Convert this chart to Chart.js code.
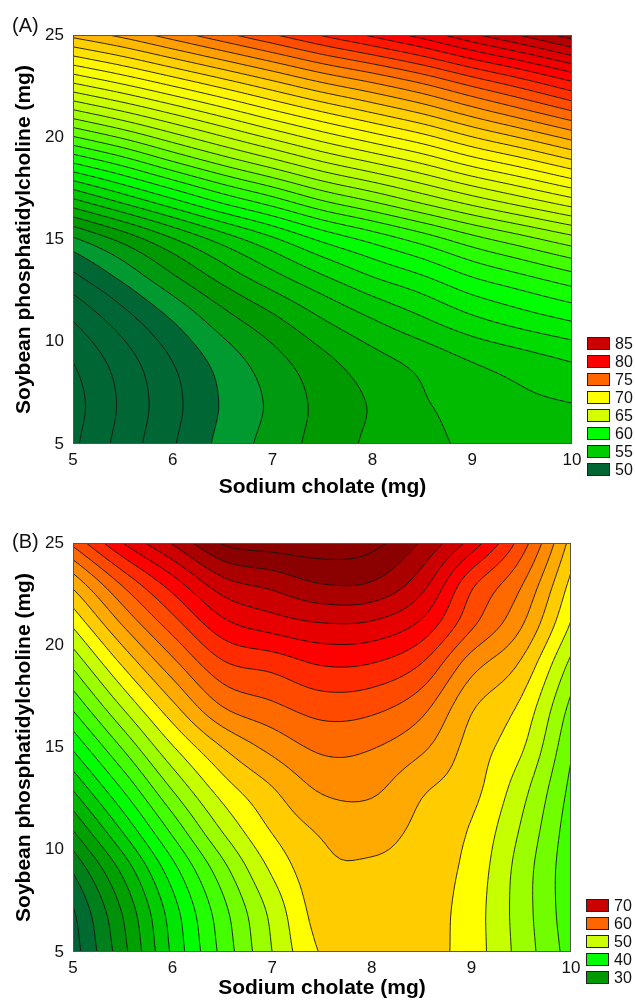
<!DOCTYPE html>
<html>
<head>
<meta charset="utf-8">
<title>Contour plots</title>
<script src="https://cdn.jsdelivr.net/npm/chart.js@4.4.1/dist/chart.umd.min.js"></script>
<style>
  html, body { margin: 0; padding: 0; background: #fff; }
  .panel { position: absolute; left: 0; width: 635px; }
  #wrapA { top: 0; height: 500px; }
  #wrapB { top: 500px; height: 503px; }
</style>
</head>
<body>
<div class="panel" id="wrapA"><canvas id="chartA"></canvas></div>
<div class="panel" id="wrapB"><canvas id="chartB"></canvas></div>
<script>
// grid nodes the surfaces were read at
const sodiumCholate = [5, 5.5, 6, 6.5, 7, 7.5, 8, 8.5, 9, 9.5, 10];
const soyPC = [5, 7, 9, 11, 13, 15, 17, 19, 21, 23, 25];

// (A) one row per soyPC value (5 -> 25), one column per sodiumCholate value
const responseA = [
  [45.8, 47.4, 48.9, 50.3, 51.4, 52.4, 53.2, 53.7, 54.2, 54.5, 54.6],
  [45.6, 47.2, 48.7, 50.1, 51.2, 52.3, 53.1, 53.9, 54.4, 54.8, 55.0],
  [46.0, 47.5, 49.0, 50.4, 51.6, 52.7, 53.6, 54.3, 55.0, 55.5, 56.0],
  [47.0, 48.5, 50.0, 51.5, 52.7, 53.9, 54.9, 55.8, 56.7, 57.4, 58.0],
  [48.6, 50.1, 51.7, 53.2, 54.5, 55.7, 56.8, 57.7, 58.8, 59.6, 60.4],
  [50.8, 52.3, 53.9, 55.4, 56.8, 58.2, 59.3, 60.4, 61.6, 62.6, 63.6],
  [55.0, 56.5, 58.0, 59.5, 60.8, 62.2, 63.3, 64.5, 65.7, 66.8, 67.9],
  [59.6, 60.9, 62.4, 63.8, 65.1, 66.4, 67.5, 68.6, 69.9, 71.0, 72.2],
  [64.2, 65.4, 66.7, 68.0, 69.3, 70.5, 71.6, 72.7, 74.0, 75.2, 76.4],
  [68.8, 69.9, 71.1, 72.3, 73.5, 74.7, 75.7, 76.8, 78.1, 79.3, 80.6],
  [73.3, 74.3, 75.5, 76.7, 77.9, 79.1, 80.2, 81.4, 82.8, 84.1, 85.5]
];

// (B) same layout
const responseB = [
  [23.0, 29.3, 36.4, 42.6, 48.0, 52.2, 53.0, 52.8, 51.0, 47.2, 43.1],
  [23.8, 30.2, 37.1, 43.3, 48.6, 53.0, 53.2, 52.9, 51.0, 47.0, 42.7],
  [26.2, 32.5, 39.2, 45.2, 50.3, 53.5, 53.7, 53.1, 51.3, 47.1, 42.6],
  [30.1, 36.3, 42.6, 48.2, 52.2, 54.3, 54.8, 53.5, 51.8, 47.8, 42.9],
  [34.2, 40.2, 46.2, 51.0, 53.9, 56.3, 56.4, 54.3, 52.7, 48.8, 43.5],
  [38.3, 44.2, 49.8, 54.0, 56.6, 58.4, 58.1, 56.4, 53.2, 50.3, 44.3],
  [42.4, 48.2, 53.5, 58.0, 59.6, 60.9, 60.6, 58.7, 54.3, 51.6, 45.5],
  [46.3, 52.1, 57.2, 61.5, 62.6, 64.0, 63.8, 61.8, 56.8, 53.6, 47.4],
  [50.3, 56.1, 61.0, 65.3, 66.9, 67.8, 67.6, 65.5, 60.4, 56.2, 49.8],
  [54.6, 60.3, 65.0, 69.2, 70.6, 72.0, 71.8, 68.8, 62.5, 58.2, 51.5],
  [60.5, 66.0, 70.2, 74.2, 75.0, 75.2, 74.6, 71.8, 67.2, 61.1, 53.3]
];

const xTicks = [5, 6, 7, 8, 9, 10];
const yTicks = [5, 10, 15, 20, 25];
const legendA = [85, 80, 75, 70, 65, 60, 55, 50];
const legendB = [70, 60, 50, 40, 30];

const FONT = '"Liberation Sans", Arial, Helvetica, sans-serif';

const panels = [
  {
    canvas: 'chartA', tag: '(A)', tagY: 26, z: responseA, legend: legendA,
    legendColors: ['#cc0000', '#ff0000', '#ff6600', '#ffff00', '#d4ff00', '#00ff00', '#00cc00', '#006633'],
    levels: { from: 40, to: 90, step: 1 },
    stops: [[49.9, '#006633'], [50, '#009a48'], [51, '#009a18'], [52.5, '#009900'], [54, '#00b400'],
            [55.5, '#00c800'], [57, '#00e400'], [58.5, '#00ff00'], [61, '#33ff00'], [63, '#77ff00'],
            [65, '#b0ff00'], [67.5, '#ddff00'], [70, '#ffff00'], [72.5, '#ffd000'], [74.5, '#ffa000'],
            [76.5, '#ff6a00'], [78.5, '#ff3000'], [80.5, '#ff0000'], [83, '#d80000'], [85, '#a80000'],
            [86.5, '#880000']],
    padTop: 35, padRight: 63, xAxisH: 56, xTitlePad: 0
  },
  {
    canvas: 'chartB', tag: '(B)', tagY: 42, z: responseB, legend: legendB,
    legendColors: ['#cc0000', '#ff6600', '#ccff00', '#00ff00', '#009900'],
    levels: { from: 20, to: 80, step: 2 },
    stops: [[22, '#005a3c'], [25, '#006b30'], [28, '#008a10'], [31, '#00a000'], [35, '#00cc00'],
            [39, '#00ff00'], [43, '#44ff00'], [46, '#88ff00'], [48.5, '#bbff00'], [50, '#ddff00'],
            [51, '#ffff00'], [53, '#ffcc00'], [55, '#ffaa00'], [57, '#ff8c00'], [59, '#ff6a00'],
            [61, '#ff4a00'], [63, '#ff2a00'], [65, '#ff0000'], [67, '#e60000'], [69, '#cc0000'],
            [71, '#aa0000'], [73, '#8b0000']],
    padTop: 43, padRight: 64, xAxisH: 51, xTitlePad: 2
  }
];

function hexRgb(h) {
  const n = parseInt(h.slice(1), 16);
  return [(n >> 16) & 255, (n >> 8) & 255, n & 255];
}

function cmap(stops, v) {
  if (v <= stops[0][0]) return hexRgb(stops[0][1]);
  for (let i = 1; i < stops.length; i++) {
    if (v <= stops[i][0]) {
      const t = (v - stops[i - 1][0]) / (stops[i][0] - stops[i - 1][0]);
      const a = hexRgb(stops[i - 1][1]), b = hexRgb(stops[i][1]);
      return a.map((c, k) => Math.round(c + (b[k] - c) * t));
    }
  }
  return hexRgb(stops[stops.length - 1][1]);
}

// grid padded by one node on every side so the cubic has neighbours at the border
function padGrid(z) {
  const rows = z.map(r => [2 * r[0] - r[1], ...r, 2 * r[r.length - 1] - r[r.length - 2]]);
  const n = rows.length;
  const first = rows[0].map((v, k) => 2 * v - rows[1][k]);
  const last = rows[n - 1].map((v, k) => 2 * v - rows[n - 2][k]);
  return [first, ...rows, last];
}

function cr(p0, p1, p2, p3, t) {
  return p1 + 0.5 * t * (p2 - p0 + t * (2 * p0 - 5 * p1 + 4 * p2 - p3 + t * (3 * (p1 - p2) + p3 - p0)));
}

function sample(P, nc, nr, gx, gy) {
  let i = Math.floor(gx); if (i < 0) i = 0; if (i > nc - 2) i = nc - 2;
  let j = Math.floor(gy); if (j < 0) j = 0; if (j > nr - 2) j = nr - 2;
  const tx = gx - i, ty = gy - j;
  const c = [];
  for (let k = 0; k < 4; k++) {
    const r = P[j + k];
    c.push(cr(r[i], r[i + 1], r[i + 2], r[i + 3], tx));
  }
  return cr(c[0], c[1], c[2], c[3], ty);
}

const contourPlugin = {
  id: 'contour',
  beforeDatasetsDraw(chart) {
    const ds = chart.data.datasets[0];
    const st = ds.surface;
    const { ctx, chartArea: a, scales: { x, y } } = chart;
    const xs = sodiumCholate, ys = soyPC;
    const nc = xs.length, nr = ys.length;
    // rebuild the grid from the dataset points
    const z = [];
    for (let j = 0; j < nr; j++) z.push(ds.data.slice(j * nc, (j + 1) * nc).map(p => p.z));
    const P = padGrid(z);
    const dx = xs[1] - xs[0], dy = ys[1] - ys[0];
    const { from, to, step } = st.levels;
    const nb = Math.round((to - from) / step);
    const colors = [];
    for (let k = 0; k < nb; k++) colors.push(cmap(st.stops, from + (k + 0.5) * step));

    // filled bands
    const L = Math.round(a.left), T = Math.round(a.top);
    const w = Math.round(a.right) - L, h = Math.round(a.bottom) - T;
    const off = document.createElement('canvas');
    off.width = w; off.height = h;
    const octx = off.getContext('2d');
    const img = octx.createImageData(w, h);
    const gxs = new Float64Array(w);
    for (let px = 0; px < w; px++) gxs[px] = (x.getValueForPixel(L + px + 0.5) - xs[0]) / dx;
    for (let py = 0; py < h; py++) {
      const gy = (y.getValueForPixel(T + py + 0.5) - ys[0]) / dy;
      for (let px = 0; px < w; px++) {
        const v = sample(P, nc, nr, gxs[px], gy);
        let k = Math.floor((v - from) / step);
        if (k < 0) k = 0; if (k > nb - 1) k = nb - 1;
        const c = colors[k], o = (py * w + px) * 4;
        img.data[o] = c[0]; img.data[o + 1] = c[1]; img.data[o + 2] = c[2]; img.data[o + 3] = 255;
      }
    }
    octx.putImageData(img, 0, 0);
    ctx.save();
    ctx.drawImage(off, L, T);

    // contour lines, marching squares on a refined grid
    ctx.beginPath();
    ctx.rect(a.left, a.top, a.right - a.left, a.bottom - a.top);
    ctx.clip();
    const N = 8;
    const cols = (nc - 1) * N + 1, rows = (nr - 1) * N + 1;
    const S = [];
    for (let r = 0; r < rows; r++) {
      const row = new Float64Array(cols);
      for (let c = 0; c < cols; c++) row[c] = sample(P, nc, nr, c / N, r / N);
      S.push(row);
    }
    const pxOf = c => x.getPixelForValue(xs[0] + (c / N) * dx);
    const pyOf = r => y.getPixelForValue(ys[0] + (r / N) * dy);
    ctx.strokeStyle = '#151515';
    ctx.lineWidth = 0.9;
    ctx.beginPath();
    for (let r = 0; r < rows - 1; r++) {
      for (let c = 0; c < cols - 1; c++) {
        const va = S[r][c], vb = S[r][c + 1], vc = S[r + 1][c + 1], vd = S[r + 1][c];
        const mn = Math.min(va, vb, vc, vd), mx = Math.max(va, vb, vc, vd);
        const k0 = Math.max(1, Math.ceil((mn - from) / step));
        const k1 = Math.min(nb - 1, Math.floor((mx - from) / step));
        for (let k = k0; k <= k1; k++) {
          const lev = from + k * step;
          const pts = [];
          const edge = (v1, v2, c1, r1, c2, r2) => {
            if ((v1 >= lev) !== (v2 >= lev)) {
              const t = (lev - v1) / (v2 - v1);
              pts.push([pxOf(c1 + t * (c2 - c1)), pyOf(r1 + t * (r2 - r1))]);
            } else pts.push(null);
          };
          edge(va, vb, c, r, c + 1, r);         // bottom
          edge(vb, vc, c + 1, r, c + 1, r + 1); // right
          edge(vd, vc, c, r + 1, c + 1, r + 1); // top
          edge(va, vd, c, r, c, r + 1);         // left
          const hit = pts.filter(p => p);
          if (hit.length === 2) {
            ctx.moveTo(hit[0][0], hit[0][1]); ctx.lineTo(hit[1][0], hit[1][1]);
          } else if (hit.length === 4) {
            const mid = (va + vb + vc + vd) / 4;
            const pairs = ((mid >= lev) === (va >= lev)) ? [[0, 1], [2, 3]] : [[0, 3], [1, 2]];
            pairs.forEach(([p, q]) => { ctx.moveTo(pts[p][0], pts[p][1]); ctx.lineTo(pts[q][0], pts[q][1]); });
          }
        }
      }
    }
    ctx.stroke();
    ctx.restore();

    // frame
    ctx.save();
    ctx.strokeStyle = '#555';
    ctx.lineWidth = 1;
    ctx.strokeRect(L + 0.5, T + 0.5, w - 1, h - 1);
    ctx.restore();
  },
  afterDraw(chart) {
    const ds = chart.data.datasets[0];
    const { ctx, chartArea: a } = chart;
    const lg = ds.legendBoxes;
    const boxW = 23, boxH = 13, gap = 18;
    const bx = Math.round(a.right) + 15;
    const top = Math.round(a.bottom) + 32 - boxH - (lg.values.length - 1) * gap;
    ctx.save();
    ctx.font = '16px ' + FONT;
    ctx.textBaseline = 'middle';
    ctx.textAlign = 'left';
    lg.values.forEach((v, k) => {
      const by = top + k * gap;
      ctx.fillStyle = lg.colors[k];
      ctx.fillRect(bx, by, boxW, boxH);
      ctx.strokeStyle = '#222';
      ctx.lineWidth = 1;
      ctx.strokeRect(bx + 0.5, by + 0.5, boxW - 1, boxH - 1);
      ctx.fillStyle = '#111';
      ctx.fillText(String(v), bx + boxW + 5, by + boxH / 2 + 1);
    });
    ctx.font = '20px ' + FONT;
    ctx.fillStyle = '#111';
    ctx.fillText(ds.tag, 12, ds.tagY);
    ctx.restore();
  }
};

function buildChart(p) {
  const points = [];
  soyPC.forEach((yv, j) => sodiumCholate.forEach((xv, i) => points.push({ x: xv, y: yv, z: p.z[j][i] })));
  return new Chart(document.getElementById(p.canvas), {
    type: 'scatter',
    data: {
      datasets: [{
        data: points,
        pointRadius: 0,
        pointHoverRadius: 0,
        surface: { levels: p.levels, stops: p.stops },
        legendBoxes: { values: p.legend, colors: p.legendColors },
        tag: p.tag,
        tagY: p.tagY
      }]
    },
    options: {
      responsive: true,
      maintainAspectRatio: false,
      animation: false,
      events: [],
      layout: { padding: { top: p.padTop, right: p.padRight, bottom: 0, left: 0 } },
      plugins: { legend: { display: false }, tooltip: { enabled: false } },
      scales: {
        x: {
          type: 'linear', min: 5, max: 10,
          afterBuildTicks: s => { s.ticks = xTicks.map(v => ({ value: v })); },
          afterFit: s => { s.height = p.xAxisH; },
          grid: { display: false, drawTicks: false },
          border: { display: false },
          ticks: { font: { family: FONT, size: 17 }, color: '#111', padding: 6, maxRotation: 0, autoSkip: false },
          title: {
            display: true, text: 'Sodium cholate (mg)', color: '#000',
            font: { family: FONT, size: 21, weight: 'bold' },
            padding: { top: 0, bottom: p.xTitlePad }
          }
        },
        y: {
          type: 'linear', min: 5, max: 25,
          afterBuildTicks: s => { s.ticks = yTicks.map(v => ({ value: v })); },
          afterFit: s => { s.width = 73; },
          grid: { display: false, drawTicks: false },
          border: { display: false },
          ticks: { font: { family: FONT, size: 17 }, color: '#111', padding: 9, autoSkip: false },
          title: {
            display: true, text: 'Soybean phosphatidylcholine (mg)', color: '#000',
            font: { family: FONT, size: 21, weight: 'bold' },
            padding: { top: 12, bottom: 0 }
          }
        }
      }
    },
    plugins: [contourPlugin]
  });
}

panels.forEach(buildChart);
</script>
</body>
</html>
